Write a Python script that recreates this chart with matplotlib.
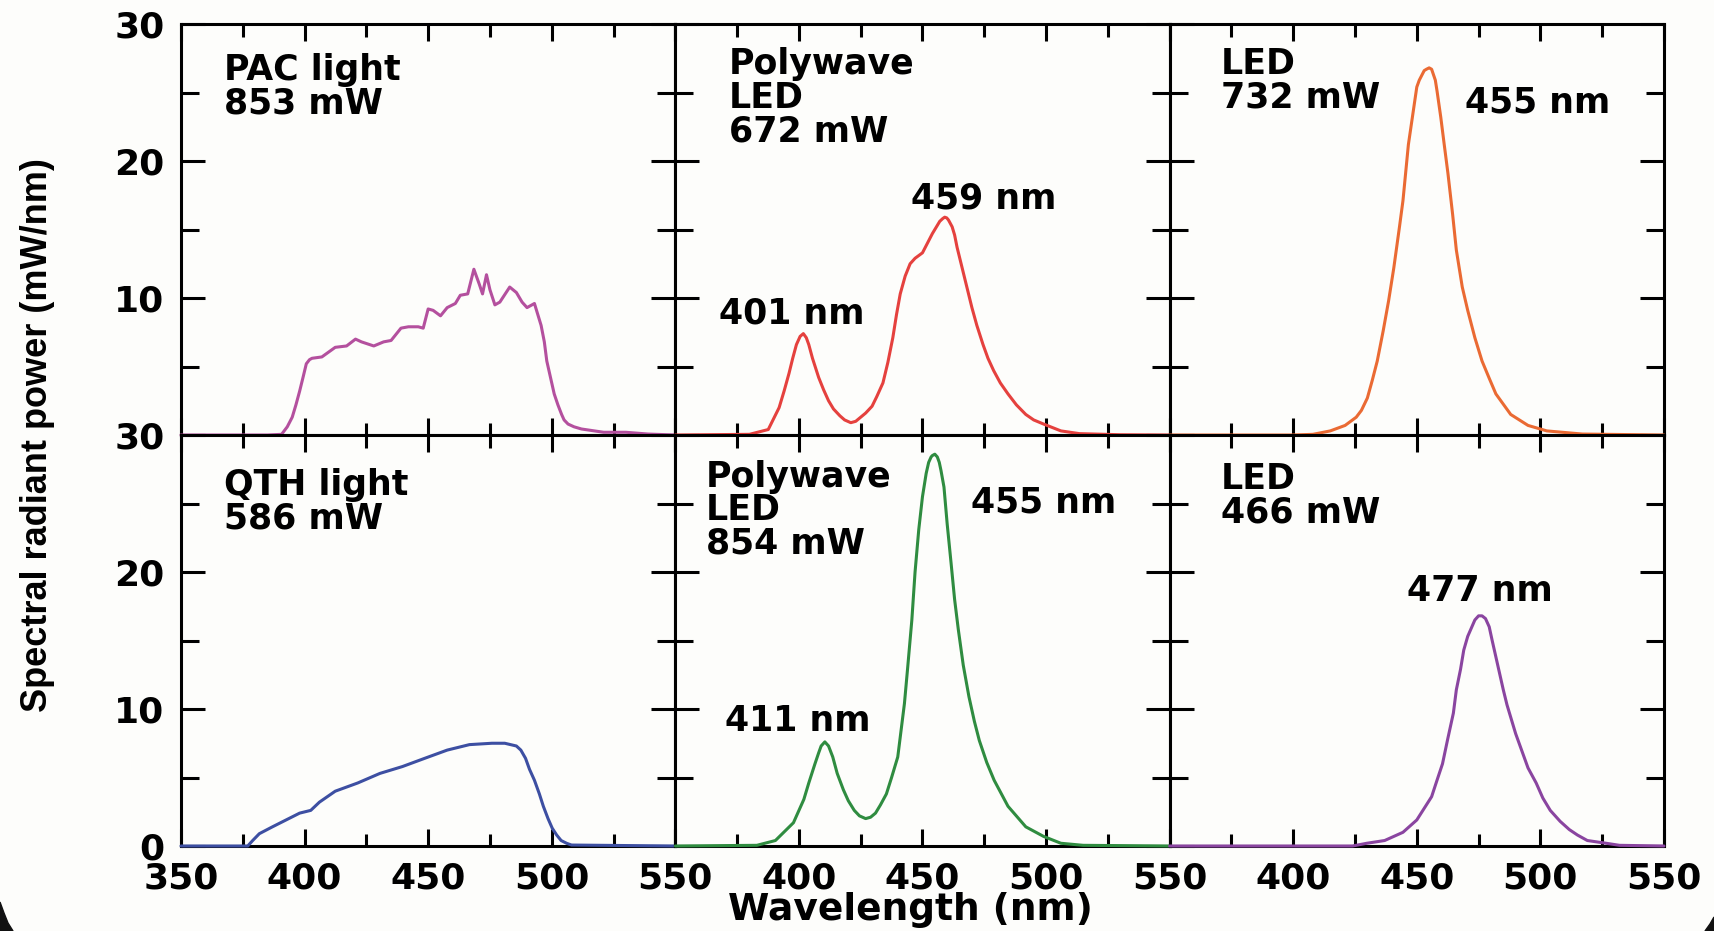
import numpy as np
import matplotlib
matplotlib.use("Agg")
import matplotlib.pyplot as plt
from matplotlib.patches import Polygon

# Spectra (wavelength in nm, power in mW/nm)
PAC_WL = [350, 385, 390.7, 393, 395, 396.5, 398, 399.5, 400.7, 402, 403, 407, 412.4, 417, 420.6,
          423, 428, 432, 435, 439, 442, 446, 448, 450, 452, 455, 457.7, 461, 463, 466, 468.5,
          470.7, 472, 473.6, 475, 477, 479, 483, 485.7, 488, 490, 493, 495.7, 497, 498, 499.5,
          501, 502.5, 504, 505, 506.6, 509, 512, 521, 530, 539, 550]
PAC_P = [0, 0, 0.05, 0.6, 1.3, 2.2, 3.2, 4.3, 5.2, 5.5, 5.6, 5.7, 6.4, 6.5, 7.0,
         6.8, 6.5, 6.8, 6.9, 7.8, 7.9, 7.9, 7.8, 9.2, 9.1, 8.7, 9.3, 9.6, 10.2, 10.3, 12.1,
         11.0, 10.3, 11.7, 10.6, 9.5, 9.7, 10.8, 10.4, 9.7, 9.3, 9.6, 8.0, 6.8, 5.4, 4.2,
         3.0, 2.2, 1.5, 1.1, 0.8, 0.6, 0.44, 0.2, 0.2, 0.07, 0]

PW1_WL = [350, 380, 387.6, 392, 394, 396, 397.5, 399, 400.5, 401.8, 403, 404, 405.5, 408, 410,
          412, 414, 416.6, 418.5, 421, 423, 425, 427, 429.6, 431.5, 434, 436, 438, 439.5, 441,
          443, 445, 447, 450, 452, 454, 456, 457, 458.2, 459, 459.8, 460.5, 462, 463, 464, 465.5,
          467, 468.5, 470, 472, 474.5, 476.5, 478.8, 481.5, 484.6, 488, 491.8, 495, 499, 506,
          513.5, 530, 550]
PW1_P = [0, 0.05, 0.4, 2.0, 3.2, 4.5, 5.6, 6.6, 7.2, 7.4, 7.1, 6.6, 5.6, 4.2, 3.3,
         2.5, 1.9, 1.4, 1.1, 0.9, 1.0, 1.3, 1.6, 2.1, 2.8, 3.8, 5.3, 7.1, 8.8, 10.3,
         11.6, 12.5, 12.9, 13.3, 14.0, 14.7, 15.3, 15.6, 15.8, 15.9, 15.85, 15.7, 15.2, 14.6, 13.7,
         12.6, 11.5, 10.4, 9.3, 8.0, 6.6, 5.6, 4.7, 3.8, 3.0, 2.2, 1.5, 1.1, 0.8, 0.3,
         0.1, 0.02, 0]

LED1_WL = [350, 400, 408, 415, 421, 425.5, 427.6, 430, 432, 434, 436.4, 438.6, 440.7, 443, 444.4,
           446.6, 450, 451, 453, 453.9, 455, 456, 457.5, 458.2, 459.7, 461.1, 462.6, 464.5, 466,
           468.4, 470.6, 473.5, 476.4, 479.4, 482, 488, 495, 502.6, 517, 550]
LED1_P = [0, 0, 0.05, 0.3, 0.7, 1.3, 1.8, 2.7, 4.0, 5.4, 7.6, 9.8, 12.2, 15.2, 17.1,
          21.2, 25.4, 25.9, 26.6, 26.7, 26.8, 26.7, 25.9, 25.1, 23.2, 21.2, 19.1, 16.1, 13.5,
          10.8, 9.1, 7.1, 5.4, 4.1, 3.0, 1.5, 0.7, 0.3, 0.07, 0]

QTH_WL = [350, 377, 379, 381.7, 387, 392.5, 398, 402.5, 406, 412.4, 421.5, 430.5, 439.6, 448.6,
          457.7, 466.7, 475.8, 481, 485.7, 487.5, 489.4, 491, 493, 495, 496.6, 498.5, 500.2,
          502, 503.8, 506, 508, 550]
QTH_P = [0, 0, 0.4, 0.9, 1.4, 1.9, 2.4, 2.6, 3.2, 4.0, 4.6, 5.3, 5.8, 6.4,
         7.0, 7.4, 7.5, 7.5, 7.3, 7.0, 6.4, 5.6, 4.8, 3.8, 2.9, 2.0, 1.3,
         0.8, 0.4, 0.2, 0.07, 0]

PW2_WL = [350, 383, 390.5, 397.8, 402, 404, 406.5, 408, 409, 410.5, 412, 413.7, 415.5, 418, 420,
          422.4, 424.5, 427, 429, 431, 433, 435.4, 437.5, 440, 442.7, 444, 445.7, 447, 448.5,
          450, 451.5, 452.5, 453.5, 454, 455, 456, 456.8, 457.5, 458.7, 460, 461.6, 463, 464.5,
          466.5, 468.8, 471, 473, 476, 479, 484.6, 491.8, 499, 506, 515, 550]
PW2_P = [0, 0.05, 0.4, 1.7, 3.4, 4.6, 6.0, 6.8, 7.3, 7.6, 7.3, 6.5, 5.3, 4.1, 3.3,
         2.6, 2.2, 2.0, 2.1, 2.4, 3.0, 3.8, 5.0, 6.5, 10.4, 13.0, 16.5, 20.0, 23.1,
         25.5, 27.2, 28.0, 28.4, 28.5, 28.6, 28.4, 28.0, 27.4, 26.2, 23.5, 20.6, 18.0, 15.8,
         13.2, 10.9, 9.1, 7.7, 6.1, 4.8, 2.9, 1.4, 0.7, 0.2, 0.05, 0]

LED2_WL = [350, 424, 429.8, 437, 444.4, 450, 456, 458, 460.4, 462.5, 464.8, 466, 467.7, 469,
           470.6, 473.5, 475, 476.4, 477.8, 479.3, 480.5, 482, 483.5, 485, 486.5, 488, 490, 492.4,
           495, 498.3, 501, 504, 508, 511.7, 515, 519, 526.6, 532, 550]
LED2_P = [0, 0, 0.2, 0.4, 1.0, 1.9, 3.6, 4.7, 6.0, 7.8, 9.7, 11.4, 12.9, 14.3,
          15.3, 16.5, 16.8, 16.8, 16.6, 16.0, 15.0, 13.8, 12.6, 11.4, 10.3, 9.4, 8.2, 7.0,
          5.7, 4.6, 3.5, 2.6, 1.8, 1.2, 0.8, 0.4, 0.2, 0.05, 0]

SOURCES = ["PAC light\n853 mW", "Polywave\nLED\n672 mW", "LED\n732 mW",
           "QTH light\n586 mW", "Polywave\nLED\n854 mW", "LED\n466 mW"]
COLORS = ["#b4509e", "#e5413e", "#ea6a33", "#3d4fa2", "#2f8c40", "#8a45a0"]
SPECTRA = [(PAC_WL, PAC_P), (PW1_WL, PW1_P), (LED1_WL, LED1_P),
           (QTH_WL, QTH_P), (PW2_WL, PW2_P), (LED2_WL, LED2_P)]

# (panel, text, x, y) peak labels
PEAK_LABELS = [(1, "401 nm", 367.8, 8.85), (1, "459 nm", 445.3, 17.3), (2, "455 nm", 469.7, 24.25),
               (4, "411 nm", 370.0, 9.1), (4, "455 nm", 469.7, 25.1), (5, "477 nm", 446.2, 18.6)]
NAME_POS = [(367.3, 27.9), (371.7, 28.3), (370.8, 28.3), (367.3, 27.6), (362.4, 28.2), (370.8, 28.0)]

BG = "#fdfdfb"
plt.rcParams["font.family"] = ["DejaVu Sans"]
plt.rcParams["font.weight"] = "bold"

fig = plt.figure(figsize=(17.14, 9.31), dpi=100, facecolor=BG)
gs = fig.add_gridspec(2, 3, left=0.1056, right=0.9708, top=0.9742, bottom=0.0913,
                      wspace=0, hspace=0)

for i in range(6):
    r, c = divmod(i, 3)
    ax = fig.add_subplot(gs[r, c])
    ax.set_facecolor(BG)
    wl, p = SPECTRA[i]
    ax.plot(wl, p, color=COLORS[i], lw=2.2, zorder=3, clip_on=False,
            solid_joinstyle="round", solid_capstyle="round")
    ax.set_xlim(350, 550)
    ax.set_ylim(0, 30)
    for s in ax.spines.values():
        s.set_linewidth(2.2)
    ax.set_xticks([350, 400, 450, 500, 550])
    ax.set_xticks([375, 425, 475, 525], minor=True)
    ax.set_yticks([0, 10, 20, 30])
    ax.set_yticks([5, 15, 25], minor=True)
    ax.tick_params(which="both", direction="in", top=True, right=True, width=2.2,
                   labelsize=26, colors="black")
    ax.tick_params(axis="y", which="major", length=17)
    ax.tick_params(axis="y", which="minor", length=13)
    ax.tick_params(axis="x", which="major", length=12, pad=11)
    ax.tick_params(axis="x", which="minor", length=9)
    ax.tick_params(axis="y", pad=12)

    if r == 1:
        if c == 0:
            ax.set_xticklabels(["350", "400", "450", "500", "550"])
        else:
            ax.set_xticklabels(["", "400", "450", "500", "550"])
    else:
        ax.set_xticklabels([])
    if c == 0:
        if r == 0:
            ax.set_yticklabels(["", "10", "20", "30"])
        else:
            ax.set_yticklabels(["0", "10", "20", "30"])
    else:
        ax.set_yticklabels([])

    nx, ny = NAME_POS[i]
    ax.text(nx, ny, SOURCES[i], fontsize=25, fontweight="bold", va="top", ha="left",
            linespacing=0.98)
    for pi, txt, tx, ty in PEAK_LABELS:
        if pi == i:
            ax.text(tx, ty, txt, fontsize=25, fontweight="bold", va="center", ha="left")

fig.text(0.531, 0.0035, "Wavelength (nm)", fontsize=27, fontweight="bold",
         ha="center", va="bottom")
fig.text(0.022, 0.533, "Spectral radiant power (mW/nm)", rotation=90,
         family=["Liberation Sans"], fontweight="bold",
         fontsize=26, ha="center", va="center")

# dark rounded screen corners at the bottom of the screenshot
W, H = 1714.0, 931.0
fig.patches.append(Polygon([(0, 0), (0, 29 / H), (4 / W, 18 / H), (8 / W, 8 / H), (13 / W, 0)],
                           closed=True, transform=fig.transFigure, color="#111111"))
fig.patches.append(Polygon([(1, 0), (1, 14 / H), (1 - 4 / W, 7 / H), (1 - 9 / W, 0)],
                           closed=True, transform=fig.transFigure, color="#111111"))

fig.savefig("out.png", dpi=100, facecolor=BG)
